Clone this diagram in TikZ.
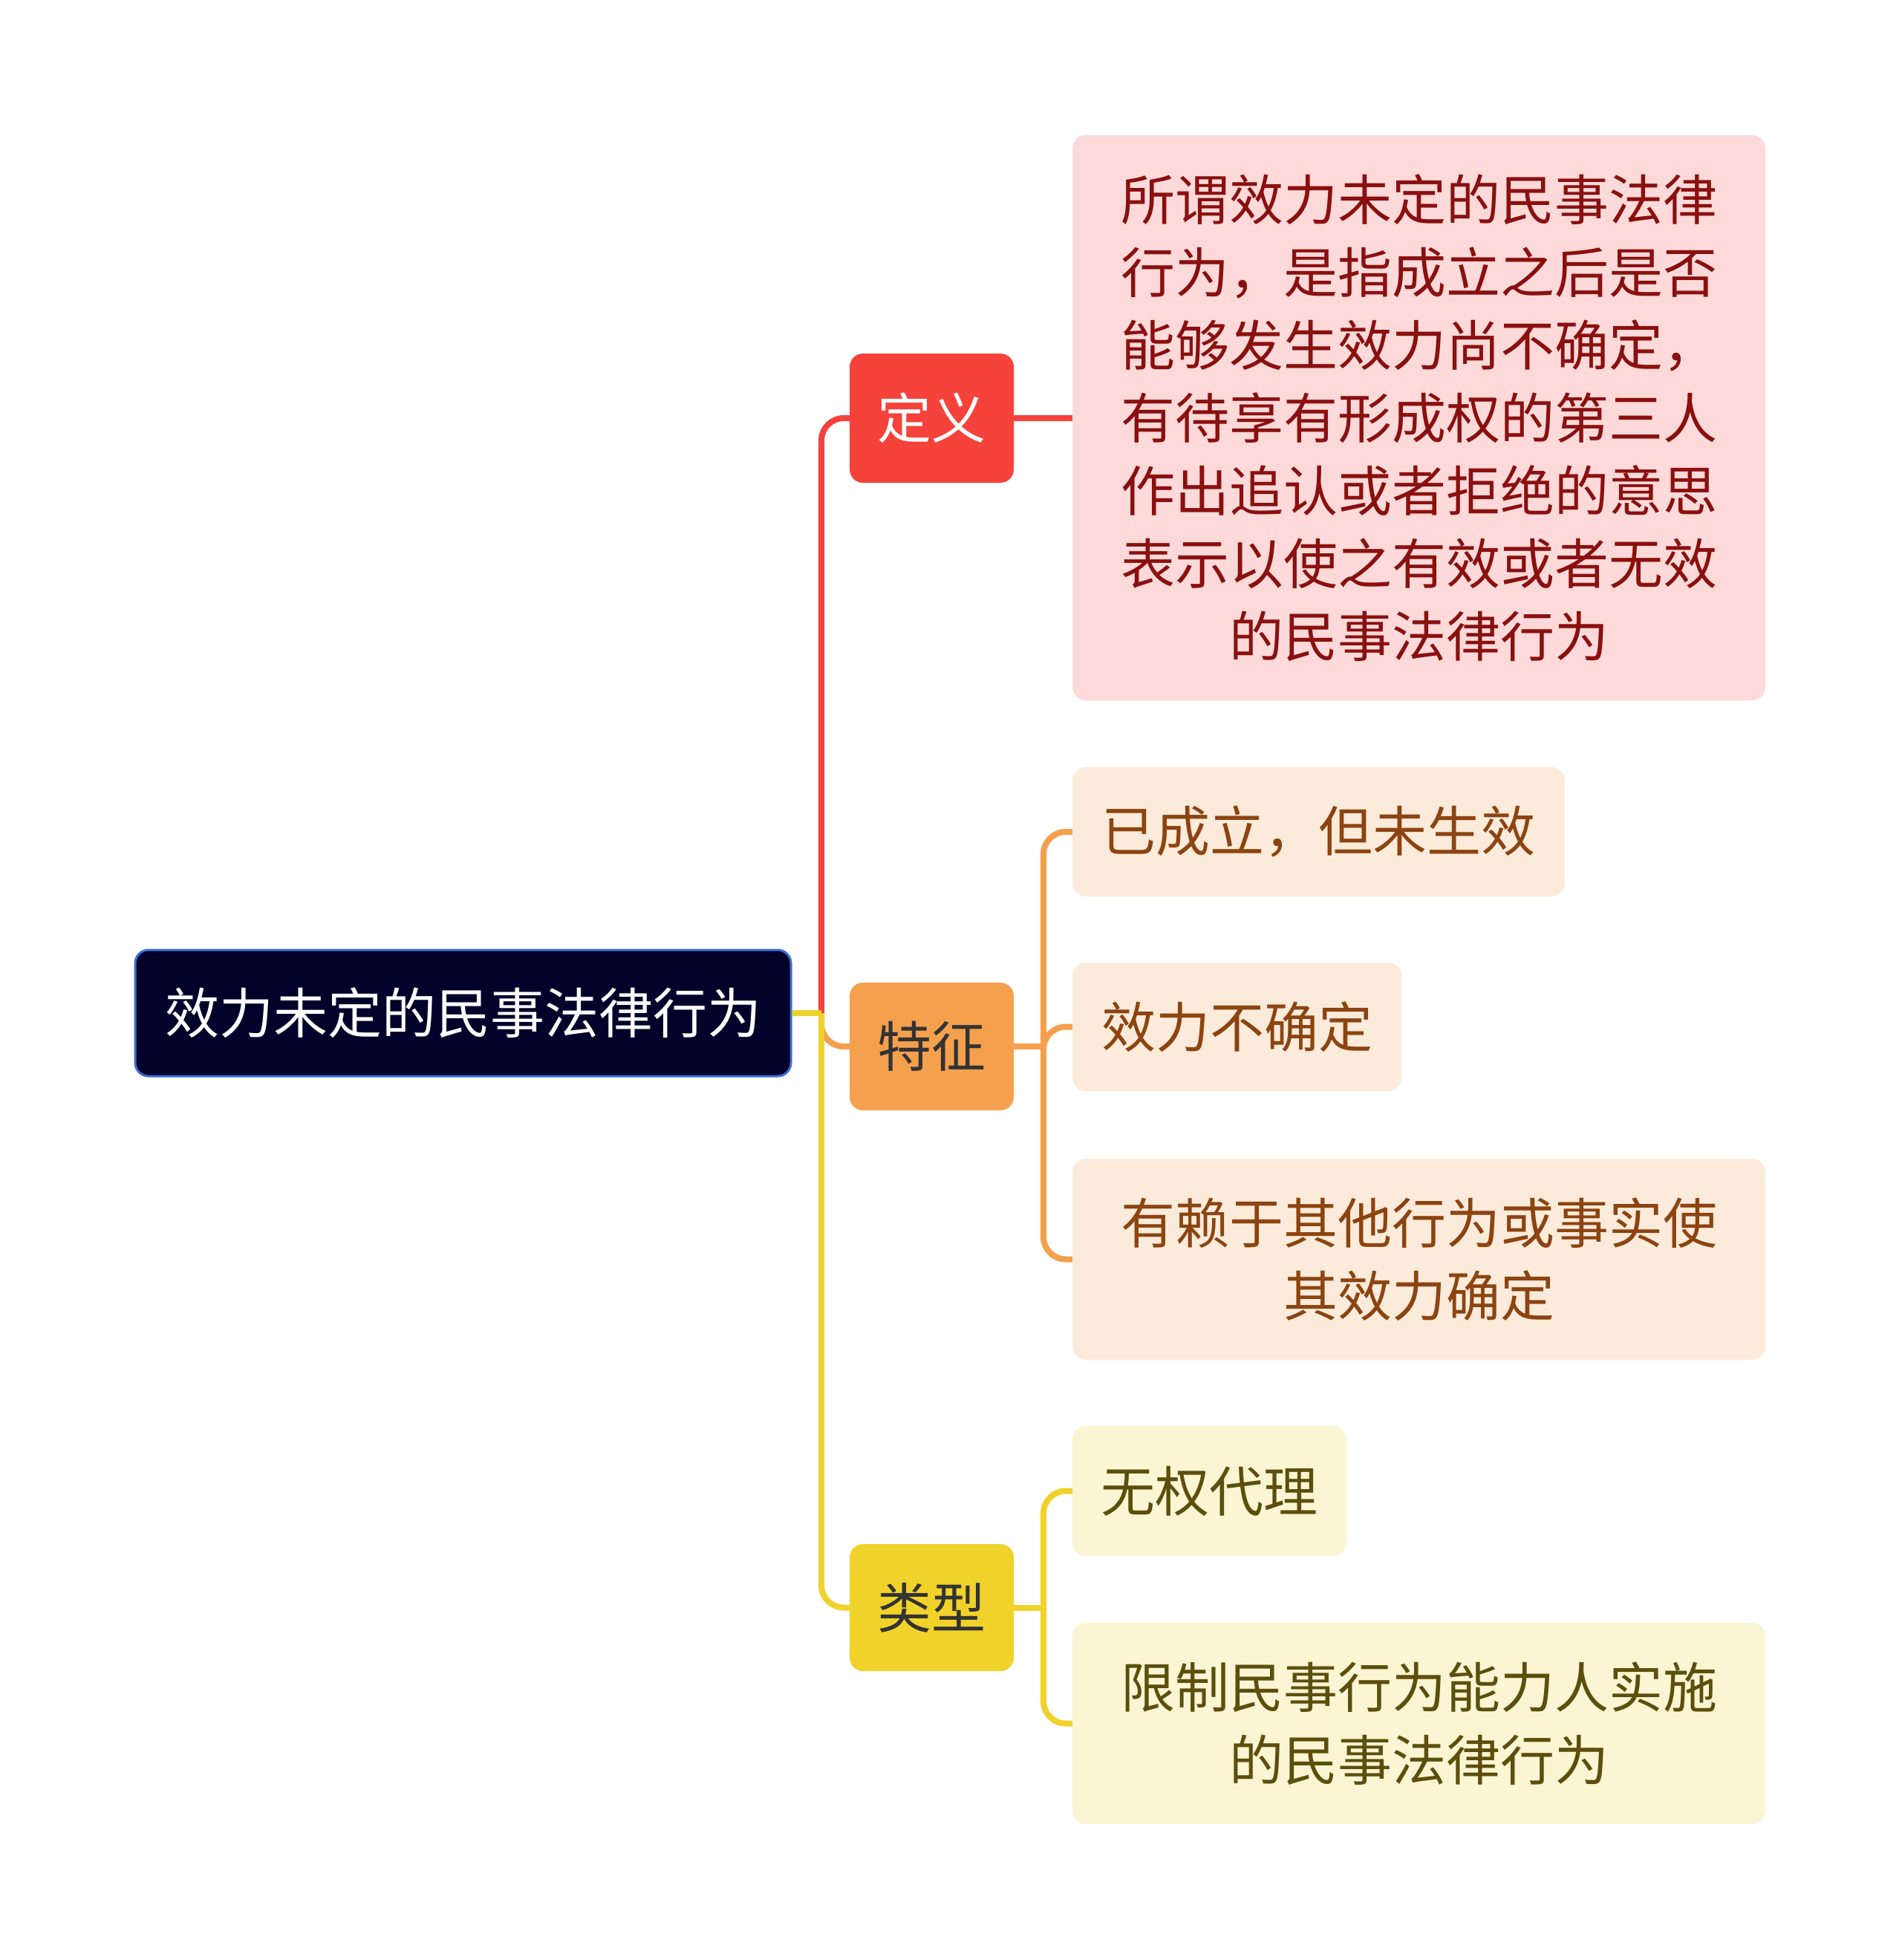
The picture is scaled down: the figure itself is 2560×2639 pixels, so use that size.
\documentclass[tikz,border=0pt]{standalone}
\usepackage{fontspec}
\setmainfont{Noto Sans CJK SC}
\newcommand\tfs{\fontsize{73pt}{98pt}\selectfont}
\definecolor{rootfill}{HTML}{01022A}
\definecolor{rootedge}{HTML}{3B6FD6}
\definecolor{redc}{HTML}{F5423B}
\definecolor{orac}{HTML}{F5A04C}
\definecolor{yelc}{HTML}{F0D22A}
\definecolor{redlight}{HTML}{FDDAD9}
\definecolor{oralight}{HTML}{FCEBDB}
\definecolor{yellight}{HTML}{FBF5D3}
\definecolor{redtext}{HTML}{8A1010}
\definecolor{oratext}{HTML}{8C4410}
\definecolor{yeltext}{HTML}{5C4E0C}
\definecolor{darktext}{HTML}{333333}
\tikzset{
  box/.style={rectangle, rounded corners=18pt, inner sep=0pt, align=center, font=\tfs},
  rootbox/.style={box, fill=rootfill, draw=rootedge, line width=3pt, text=white},
  lvl/.style={box, minimum width=221pt},
  leaf/.style={box},
  link/.style={line width=8pt, rounded corners=30pt},
}
\begin{document}
\begin{tikzpicture}[x=1pt, y=-1pt]
\fill[white] (0,0) rectangle (2560,2639);
\useasboundingbox (0,0) rectangle (2560,2639);

% root
\node[rootbox, minimum width=883pt, minimum height=170pt] (root) at (623.5,1364) {效力未定的民事法律行为};

% level 1
\node[lvl, fill=redc, text=white, minimum height=174pt] (dy) at (1254.5,563) {定义};
\node[lvl, fill=orac, text=darktext, minimum height=172pt] (tz) at (1254.5,1409) {特征};
\node[lvl, fill=yelc, text=darktext, minimum height=171pt] (lx) at (1254.5,2164.5) {类型};

% leaves
\node[leaf, fill=redlight, text=redtext, minimum width=933pt, minimum height=761pt] (def) at (1910.5,562.5)
  {所谓效力未定的民事法律\\行为，是指成立之后是否\\能够发生效力尚不确定，\\有待享有形成权的第三人\\作出追认或者拒绝的意思\\表示以使之有效或者无效\\的民事法律行为};

\node[leaf, fill=oralight, text=oratext, minimum width=663pt, minimum height=174pt] (c1) at (1775.5,1120) {已成立，但未生效};
\node[leaf, fill=oralight, text=oratext, minimum width=443pt, minimum height=173pt] (c2) at (1665.5,1382.5) {效力不确定};
\node[leaf, fill=oralight, text=oratext, minimum width=933pt, minimum height=271pt] (c3) at (1910.5,1695.5) {有赖于其他行为或事实使\\其效力确定};

\node[leaf, fill=yellight, text=yeltext, minimum width=369pt, minimum height=175pt] (t1) at (1628.5,2007.5) {无权代理};
\node[leaf, fill=yellight, text=yeltext, minimum width=933pt, minimum height=271pt] (t2) at (1910.5,2320.5) {限制民事行为能力人实施\\的民事法律行为};

% joints
\coordinate (j1) at (1106,1364);
\coordinate (j2) at (1405,1409);
\coordinate (j3) at (1405,2164.5);

% level-1 connectors
\draw[link, draw=redc] (j1) |- (dy.west);
\draw[link, draw=orac] (j1) |- (tz.west);
\draw[link, draw=yelc] (j1) |- (lx.west);
\draw[link, draw=yelc] (root.east) -- (j1);

% definition connector
\draw[link, draw=redc] (dy.east) -- (dy.east -| def.west);

% 特征 connectors
\draw[link, draw=orac] (tz.east) -- (j2);
\draw[link, draw=orac] (j2) |- (c1.west);
\draw[link, draw=orac] (j2) |- (c2.west);
\draw[link, draw=orac] (j2) |- (c3.west);

% 类型 connectors
\draw[link, draw=yelc] (lx.east) -- (j3);
\draw[link, draw=yelc] (j3) |- (t1.west);
\draw[link, draw=yelc] (j3) |- (t2.west);
\end{tikzpicture}
\end{document}
